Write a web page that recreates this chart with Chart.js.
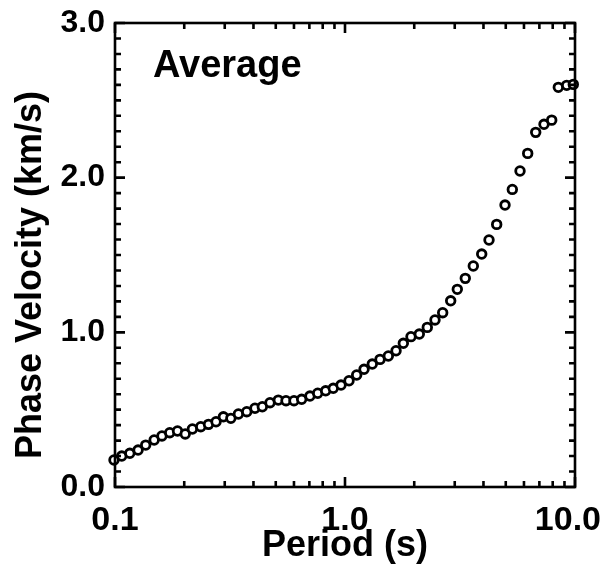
<!DOCTYPE html>
<html>
<head>
<meta charset="utf-8">
<script src="https://cdn.jsdelivr.net/npm/chart.js@4/dist/chart.umd.min.js"></script>
<style>
html,body{margin:0;padding:0;background:#fff;}
#wrap{width:602px;height:579px;}
</style>
</head>
<body>
<div id="wrap"><canvas id="c" width="602" height="579"></canvas></div>
<script>
// Period (s)
const periods = [0.099,0.107,0.116,0.126,0.136,0.148,0.160,0.173,0.187,0.202,
  0.217,0.236,0.255,0.275,0.296,0.319,0.344,0.374,0.406,0.437,
  0.472,0.513,0.554,0.600,0.648,0.704,0.761,0.824,0.889,0.961,
  1.041,1.124,1.210,1.314,1.420,1.543,1.667,1.793,1.936,2.104,
  2.279,2.462,2.659,2.881,3.078,3.334,3.613,3.930,4.228,4.566,
  4.963,5.339,5.767,6.228,6.748,7.332,7.920,8.462,9.203,9.831];
// Phase velocity (km/s)
const velocities = [0.175,0.200,0.218,0.239,0.271,0.304,0.330,0.351,0.362,0.343,
  0.375,0.390,0.405,0.422,0.454,0.444,0.472,0.487,0.509,0.519,
  0.545,0.562,0.558,0.558,0.567,0.588,0.606,0.622,0.638,0.659,
  0.687,0.724,0.761,0.795,0.825,0.847,0.881,0.929,0.972,0.989,
  1.032,1.080,1.127,1.204,1.278,1.349,1.429,1.506,1.597,1.698,
  1.823,1.924,2.043,2.157,2.293,2.345,2.372,2.584,2.597,2.603];
const seriesLabel = 'Average';
const xMajorTicks = [0.1, 1, 10];
const xTickLabels = ['0.1', '1.0', '10.0'];
const xMinorTicks = [0.2,0.3,0.4,0.5,0.6,0.7,0.8,0.9,2,3,4,5,6,7,8,9];
const yMajorTicks = [0, 1, 2, 3];
const yMinorTicks = [0.1,0.2,0.3,0.4,0.5,0.6,0.7,0.8,0.9,1.1,1.2,1.3,1.4,1.5,1.6,1.7,1.8,1.9,2.1,2.2,2.3,2.4,2.5,2.6,2.7,2.8,2.9];
const xTitle = 'Period (s)';
const yTitle = 'Phase Velocity (km/s)';

const FONT = '"Liberation Sans", Arial, Helvetica, sans-serif';

const framePlugin = {
  id: 'frame',
  afterDatasetsDraw(chart) {
    const ctx = chart.ctx;
    const a = chart.chartArea;
    const xs = chart.scales.x, ys = chart.scales.y;
    const W = chart.width;
    ctx.save();
    ctx.strokeStyle = '#000';
    ctx.lineWidth = 2.6;
    ctx.lineCap = 'butt';
    ctx.strokeRect(a.left, a.top, a.right - a.left, a.bottom - a.top);
    const tick = (vals, len) => {
      vals.forEach(v => {
        const px = xs.getPixelForValue(v);
        ctx.beginPath();
        ctx.moveTo(px, a.bottom); ctx.lineTo(px, a.bottom - len);
        ctx.moveTo(px, a.top); ctx.lineTo(px, a.top + len);
        ctx.stroke();
      });
    };
    const ytick = (vals, len) => {
      vals.forEach(v => {
        const py = ys.getPixelForValue(v);
        ctx.beginPath();
        ctx.moveTo(a.left, py); ctx.lineTo(a.left + len, py);
        ctx.moveTo(a.right, py); ctx.lineTo(a.right - len, py);
        ctx.stroke();
      });
    };
    tick(xMinorTicks, 6);
    tick(xMajorTicks, 10);
    ytick(yMinorTicks, 6);
    ytick(yMajorTicks, 10);
    ctx.fillStyle = '#000';
    // x tick labels, kept inside the canvas
    ctx.font = 'bold 34px ' + FONT;
    ctx.textAlign = 'left';
    ctx.textBaseline = 'alphabetic';
    xMajorTicks.forEach((v, i) => {
      const txt = xTickLabels[i];
      const w = ctx.measureText(txt).width;
      let x0 = xs.getPixelForValue(v) - w / 2;
      if (x0 + w > W - 1) x0 = W - 1 - w;
      ctx.fillText(txt, x0, a.bottom + 43);
    });
    // series label
    ctx.font = 'bold 38px ' + FONT;
    ctx.fillText(seriesLabel, a.left + 38, a.top + 54);
    // y axis title (rotated)
    ctx.save();
    ctx.translate(31, (a.top + a.bottom) / 2 + 20);
    ctx.rotate(-Math.PI / 2);
    ctx.textAlign = 'center';
    ctx.textBaseline = 'middle';
    ctx.font = 'bold 36px ' + FONT;
    ctx.fillText(yTitle, 0, 0);
    ctx.restore();
    ctx.restore();
  }
};

new Chart(document.getElementById('c'), {
  type: 'scatter',
  data: {
    datasets: [{
      label: seriesLabel,
      data: periods.map((p, i) => ({x: p, y: velocities[i]})),
      pointStyle: 'circle',
      pointRadius: 4.3,
      pointBorderWidth: 2.8,
      borderColor: '#000',
      backgroundColor: '#fff',
      pointBackgroundColor: '#fff',
      pointBorderColor: '#000',
      clip: false
    }]
  },
  options: {
    responsive: false,
    animation: false,
    devicePixelRatio: 1,
    layout: { padding: { top: 23, right: 27, left: 0, bottom: 0 } },
    plugins: { legend: { display: false }, tooltip: { enabled: false } },
    scales: {
      x: {
        type: 'logarithmic',
        min: 0.1, max: 10,
        afterBuildTicks(s) { s.ticks = xMajorTicks.map(v => ({value: v})); },
        afterFit(s) { s.height = 92; s.paddingLeft = 0; s.paddingRight = 0; },
        grid: { display: false, drawTicks: false },
        border: { display: false },
        ticks: { display: false },
        title: {
          display: true, text: xTitle, color: '#000',
          font: { family: FONT, size: 36, weight: 'bold' },
          padding: { top: 0, bottom: 11 }
        }
      },
      y: {
        type: 'linear',
        min: 0, max: 3,
        afterBuildTicks(s) { s.ticks = yMajorTicks.map(v => ({value: v})); },
        afterFit(s) { s.width = 115; s.paddingTop = 0; s.paddingBottom = 0; },
        grid: { display: false, drawTicks: false },
        border: { display: false },
        ticks: {
          color: '#000', padding: 10, autoSkip: false,
          font: { family: FONT, size: 32, weight: 'bold' },
          callback: v => Number(v).toFixed(1)
        },
        title: { display: false }
      }
    }
  },
  plugins: [framePlugin]
});
</script>
</body>
</html>
